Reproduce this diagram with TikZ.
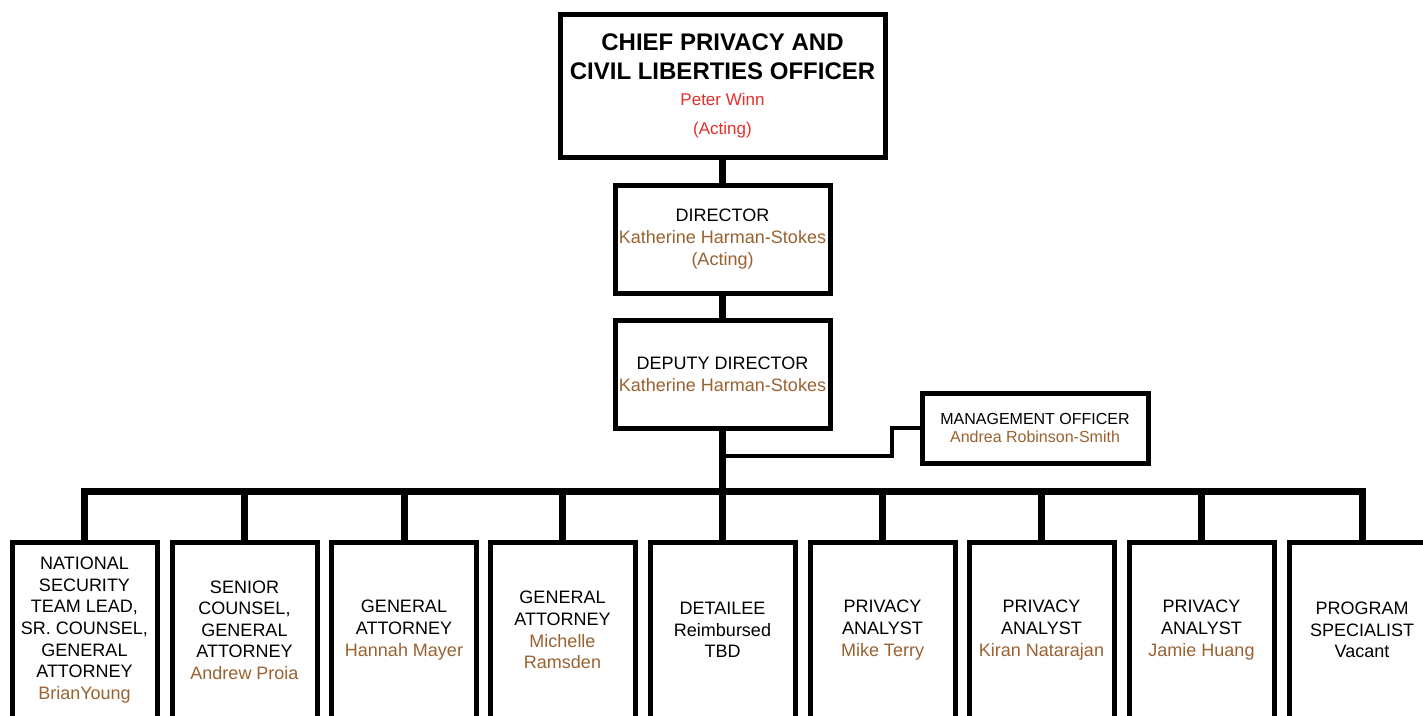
\documentclass[tikz,border=0pt]{standalone}
\usepackage{fontspec}
\setmainfont{Liberation Sans}
\definecolor{namebrown}{RGB}{154,98,48}
\definecolor{namered}{RGB}{226,48,44}
\tikzset{
  office/.style={draw=black, line width=5pt, fill=white, align=center, inner sep=0pt},
  topbox/.style={office, minimum width=325pt, minimum height=143pt,
    font=\fontsize{24}{29}\selectfont},
  midbox/.style={office, minimum width=215pt, minimum height=108pt,
    font=\fontsize{18}{22}\selectfont},
  mgmtbox/.style={office, minimum width=226pt, minimum height=70pt,
    font=\fontsize{16}{18}\selectfont},
  staffbox/.style={office, minimum width=145pt, minimum height=176pt,
    font=\fontsize{18}{21.6}\selectfont},
  trunk/.style={line width=7pt},
  spur/.style={line width=4.5pt},
}
\newcommand{\nm}[1]{\textcolor{namebrown}{#1}}
\newcommand{\rednm}[1]{{\fontsize{17}{29}\selectfont\textcolor{namered}{#1}}}
\begin{document}
\begin{tikzpicture}[x=1pt,y=-1pt]
\clip (0,0) rectangle (1423,715);
\fill[white] (0,0) rectangle (1423,715);

% leadership chain
\node[topbox] (cpo) at (722.5,85.5)
  {\textbf{CHIEF PRIVACY AND}\\\textbf{CIVIL LIBERTIES OFFICER}\\[-3pt]\rednm{Peter Winn}\\\rednm{(Acting)}};
\node[midbox] (dir) at (722.5,239) {DIRECTOR\\\nm{Katherine Harman-Stokes}\\\nm{(Acting)}};
\node[midbox] (dep) at (722.5,374) {DEPUTY DIRECTOR\\\nm{Katherine Harman-Stokes}};
\node[mgmtbox] (mgmt) at (1035,428) {MANAGEMENT OFFICER\\\nm{Andrea Robinson-Smith}};

% staff row
\node[staffbox] (s1) at (84.5,630) {NATIONAL\\SECURITY\\TEAM LEAD,\\SR. COUNSEL,\\GENERAL\\ATTORNEY\\\nm{BrianYoung}};
\node[staffbox] (s2) at (244.5,630) {SENIOR\\COUNSEL,\\GENERAL\\ATTORNEY\\\nm{Andrew Proia}};
\node[staffbox] (s3) at (404,630) {GENERAL\\ATTORNEY\\\nm{Hannah Mayer}};
\node[staffbox] (s4) at (562.5,630) {GENERAL\\ATTORNEY\\\nm{Michelle}\\\nm{Ramsden}};
\node[staffbox] (s5) at (722.5,630) {DETAILEE\\Reimbursed\\TBD};
\node[staffbox] (s6) at (882.5,630) {PRIVACY\\ANALYST\\\nm{Mike Terry}};
\node[staffbox] (s7) at (1041.5,630) {PRIVACY\\ANALYST\\\nm{Kiran Natarajan}};
\node[staffbox] (s8) at (1201.5,630) {PRIVACY\\ANALYST\\\nm{Jamie Huang}};
\node[staffbox] (s9) at (1362,630) {PROGRAM\\SPECIALIST\\Vacant};

% bus and junction points
\coordinate (busL) at (84.5,491);
\coordinate (busR) at (1362,491);
\coordinate (busC) at (722.5,491);
\coordinate (tap) at (722.5,456);
\coordinate (jog1) at (892,456);

% connectors
\draw[trunk] (cpo.south) -- (dir.north);
\draw[trunk] (dir.south) -- (dep.north);
\draw[trunk] (dep.south) -- (busC);
\draw[trunk, line cap=rect] (busL) -- (busR);
\draw[spur] (tap) -- (jog1) -- (jog1 |- mgmt.west) -- (mgmt.west);
\foreach \s in {s1,s2,s3,s4,s5,s6,s7,s8,s9}
  \draw[trunk] (\s.north |- busC) -- (\s.north);
\end{tikzpicture}
\end{document}
